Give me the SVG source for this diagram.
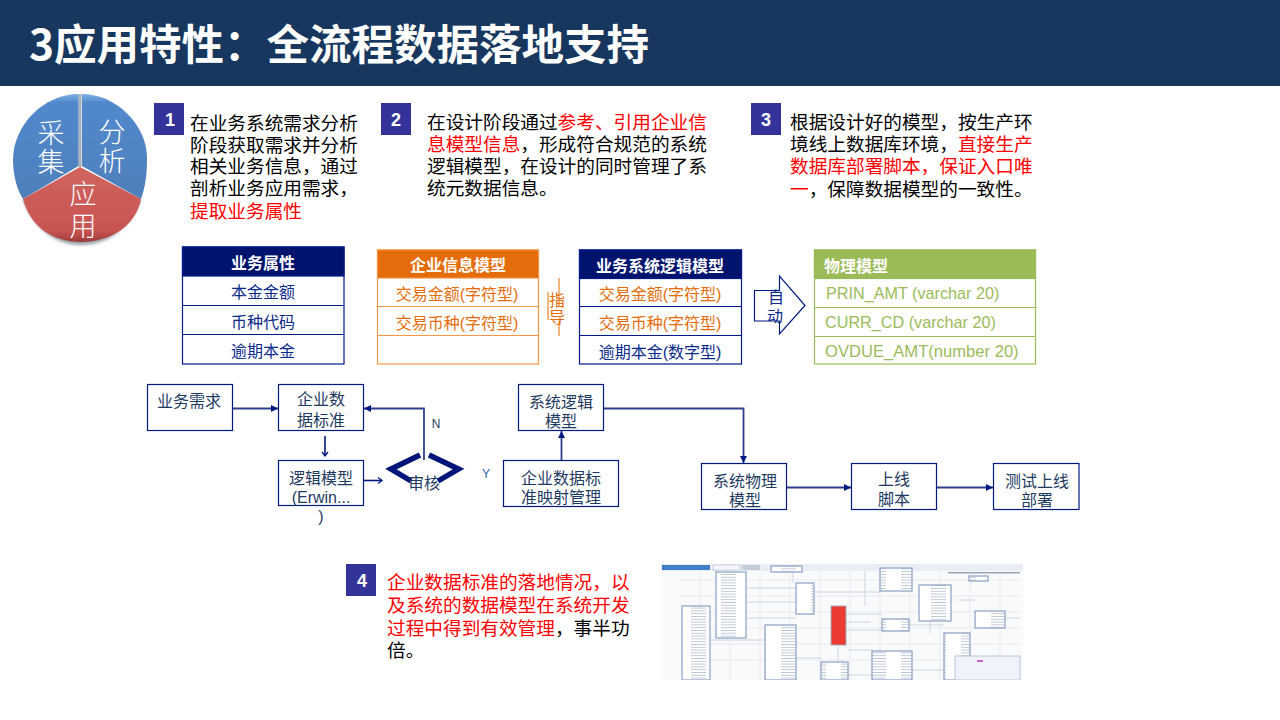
<svg xmlns="http://www.w3.org/2000/svg" width="1280" height="720" viewBox="0 0 1280 720">
<style>
text{font-family:"Liberation Sans","Noto Sans CJK SC",sans-serif}
.cjk{font-family:"Noto Sans CJK SC","Liberation Sans",sans-serif}
.body{font-size:18.670px;fill:#000}
.red{fill:#f00}
.num{font-size:18px;font-weight:700;fill:#fff;text-anchor:middle}
.badge{fill:#333399}
.th{font-size:16px;font-weight:700;fill:#fff;text-anchor:middle}
.td{font-size:16px;text-anchor:middle}
.navy{fill:#0a2a8c}
.org{fill:#e46c0a}
.grn{fill:#9bbb59}
.box{fill:#fff;stroke:#001a80;stroke-width:1.2}
.fl{font-size:16px;fill:#1f3a5f;text-anchor:middle}
.conn{fill:none;stroke:#2f3d90;stroke-width:1.8;marker-end:url(#a)}
.open{fill:none;stroke:#001a80;stroke-width:1.6;marker-end:url(#o)}
.pie{font-size:27px;fill:#fff;text-anchor:middle;font-family:"Noto Sans CJK SC",sans-serif;font-weight:300}
.gl{stroke:#dfe3ea;stroke-width:.6;fill:none}
.t{fill:url(#rows);stroke:#93a8c8;stroke-width:1.300}
</style>
<defs>
<marker id="a" markerWidth="8" markerHeight="8" refX="7" refY="3.500" orient="auto" markerUnits="userSpaceOnUse"><path d="M0 0L7 3.500L0 7z" fill="#001a80"/></marker>
<marker id="o" markerWidth="8" markerHeight="8" refX="6" refY="4" orient="auto" markerUnits="userSpaceOnUse"><path d="M2 1L6 4L2 7" fill="none" stroke="#001a80" stroke-width="1.300"/></marker>
<linearGradient id="b" x1="0" y1="0" x2="0" y2="1"><stop offset="0" stop-color="#7fb0e6"/><stop offset=".08" stop-color="#5189cc"/><stop offset="1" stop-color="#4f7fbc"/></linearGradient>
<linearGradient id="r" x1="0" y1="0" x2="0" y2="1"><stop offset="0" stop-color="#d26460"/><stop offset=".85" stop-color="#c85450"/><stop offset="1" stop-color="#9c3d3a"/></linearGradient>
<pattern id="rows" width="30" height="2.800" patternUnits="userSpaceOnUse"><rect width="30" height="2.800" fill="#fff"/><rect x="1" width="15" height=".7" fill="#a9b3c4"/></pattern>
<filter id="soft" x="0" y="0" width="1" height="1"><feGaussianBlur stdDeviation=".6"/></filter>
<filter id="sh" x="-10%" y="-10%" width="120%" height="120%"><feGaussianBlur stdDeviation="1.500"/></filter>
</defs>
<rect width="1280" height="720" fill="#fff"/>
<g id="title"><rect width="1280" height="86" fill="#17375e"/><text x="29" y="60" class="cjk" font-size="42.500" font-weight="700" fill="#fff">3应用特性：全流程数据落地支持</text></g>

<g id="pie">
<path d="M23 200C33 228 55 245 81 245C108 245 130 228 141 200L81 170Z" fill="#9aa0a8" filter="url(#sh)"/>
<rect x="78.500" y="94" width="3" height="73" fill="#aab0b8"/>
<path d="M78.500 94C44 94 13 125 13 160C13 175 17 190 23 199L78.500 166Z" fill="url(#b)"/>
<path d="M82 94C116 94 147 125 147 158C147 175 145 188 141 199L82 166Z" fill="url(#b)"/>
<path d="M80 167L141 199C136 226 110 242 81 242C52 242 30 226 23 199Z" fill="url(#r)"/>
<text class="pie"><tspan x="51" y="143">采</tspan><tspan x="51" dy="29">集</tspan></text>
<text class="pie"><tspan x="112" y="142">分</tspan><tspan x="112" dy="29">析</tspan></text>
<text class="pie"><tspan x="83" y="204">应</tspan><tspan x="83" dy="32">用</tspan></text>
</g>

<g id="step1"><rect class="badge" x="154" y="103" width="30" height="32"/><text class="num" x="170" y="126">1</text>
<text class="body" x="190" y="130">在业务系统需求分析</text><text class="body" x="190" y="152">阶段获取需求并分析</text><text class="body" x="190" y="173">相关业务信息，通过</text><text class="body" x="190" y="195">剖析业务应用需求，</text><text class="body red" x="190" y="218">提取业务属性</text></g>
<g id="step2"><rect class="badge" x="381" y="103" width="30" height="32"/><text class="num" x="396" y="126">2</text>
<text class="body" x="427" y="129">在设计阶段通过<tspan class="red">参考、引用企业信</tspan></text><text class="body" x="427" y="151"><tspan class="red">息模型信息</tspan>，形成符合规范的系统</text><text class="body" x="427" y="173">逻辑模型，在设计的同时管理了系</text><text class="body" x="427" y="195">统元数据信息。</text></g>
<g id="step3"><rect class="badge" x="751" y="103" width="30" height="32"/><text class="num" x="766" y="126">3</text>
<text class="body" x="790" y="129">根据设计好的模型，按生产环</text><text class="body" x="790" y="151">境线上数据库环境，<tspan class="red">直接生产</tspan></text><text class="body red" x="790" y="173">数据库部署脚本，保证入口唯</text><text class="body" x="790" y="196"><tspan class="red">一</tspan>，保障数据模型的一致性。</text></g>

<g id="table1" fill="#fff" stroke="#001a8c" stroke-width="1.2">
<rect x="182.500" y="247" width="161.500" height="117"/><rect x="182.500" y="247" width="161.500" height="29" fill="#00146e"/><path d="M182.500 305.500H344M182.500 334.500H344"/>
<g stroke="none"><text class="th" x="263" y="269">业务属性</text><text class="td navy" x="263" y="298">本金金额</text><text class="td navy" x="263" y="328">币种代码</text><text class="td navy" x="263" y="357">逾期本金</text></g></g>
<g id="table2" fill="#fff" stroke="#f79646" stroke-width="1.2">
<rect x="377.500" y="250" width="161" height="114"/><rect x="377.500" y="250" width="161" height="28" fill="#e46c0a"/><path d="M377.500 306.500H538.500M377.500 335.500H538.500"/>
<g stroke="none"><text class="th" x="458" y="271">企业信息模型</text><text class="td org" x="457" y="300">交易金额(字符型)</text><text class="td org" x="457" y="329">交易币种(字符型)</text></g></g>
<g id="table3" fill="#fff" stroke="#001a8c" stroke-width="1.2">
<rect x="579.500" y="250" width="162" height="114"/><rect x="579.500" y="250" width="162" height="28.500" fill="#00146e"/><path d="M579.500 306.500H741.500M579.500 335.500H741.500"/>
<g stroke="none"><text class="th" x="660" y="272">业务系统逻辑模型</text><text class="td org" x="660" y="300">交易金额(字符型)</text><text class="td org" x="660" y="329">交易币种(字符型)</text><text class="td navy" x="660" y="358">逾期本金(数字型)</text></g></g>
<g id="table4" fill="#fff" stroke="#9bbb59" stroke-width="1.2">
<rect x="814.500" y="250" width="221" height="114"/><rect x="814.500" y="250" width="221" height="28.500" fill="#9bbb59"/><path d="M814.500 307.500H1035.500M814.500 336.500H1035.500"/>
<g stroke="none"><text class="th" x="856" y="272">物理模型</text><text class="grn" x="826" y="299" font-size="16.200">PRIN_AMT (varchar 20)</text><text class="grn" x="825" y="328" font-size="16.200">CURR_CD (varchar 20)</text><text class="grn" x="825" y="357" font-size="16.600">OVDUE_AMT(number 20)</text></g></g>

<g id="guide"><path d="M559 278V306M559 321V336M548 292V320" stroke="#e46c0a" fill="none"/><text class="td org" x="557" y="306">指</text><text class="td org" x="557" y="323">导</text></g>
<g id="auto"><path d="M754.500 290.500H779.500V276L805 305.500L779.500 334V321H754.500Z" fill="#fff" stroke="#001a80" stroke-width="1.200"/><text class="td navy" x="776" y="303">自</text><text class="td navy" x="775" y="322">动</text></g>

<g id="connectors">
<path class="conn" d="M233 408.500H278"/>
<path class="open" d="M325 436V456"/>
<path class="open" d="M364 480.500H382"/>
<path class="conn" d="M424 460V408.500H364"/>
<path class="conn" d="M561.500 460V431"/>
<path class="conn" d="M604 408.500H743.500V463"/>
<path class="conn" d="M787 487.500H851"/>
<path class="conn" d="M937 487.500H993"/>
</g>
<g id="n1"><rect class="box" x="147.500" y="384.500" width="85" height="46"/><text class="fl" x="189" y="407">业务需求</text></g>
<g id="n2"><rect class="box" x="278.500" y="384.500" width="85" height="46"/><text class="fl" x="321" y="405">企业数</text><text class="fl" x="321" y="426">据标准</text></g>
<g id="n3"><rect class="box" x="278.500" y="460.500" width="85" height="45"/><text class="fl" x="321" y="484">逻辑模型</text><text class="fl" x="321" y="503">(Erwin...</text><text class="fl" x="321" y="522">)</text></g>
<g id="n4"><path d="M420 455L391 469L411 481M429 455L458.500 469L438 481" fill="none" stroke="#00147a" stroke-width="5.500"/><text class="fl" x="424" y="489">审核</text></g>
<text x="436" y="428" text-anchor="middle" fill="#1f3a5f" font-size="12">N</text><text x="486" y="478" text-anchor="middle" fill="#2f5fa8" font-size="12">Y</text>
<g id="n5"><rect class="box" x="518.500" y="384.500" width="85" height="46"/><text class="fl" x="561" y="408">系统逻辑</text><text class="fl" x="561" y="427">模型</text></g>
<g id="n6"><rect class="box" x="503.500" y="460.500" width="115" height="46"/><text class="fl" x="561" y="484">企业数据标</text><text class="fl" x="561" y="503">准映射管理</text></g>
<g id="n7"><rect class="box" x="701.500" y="463.500" width="85" height="46"/><text class="fl" x="745" y="487">系统物理</text><text class="fl" x="745" y="506">模型</text></g>
<g id="n8"><rect class="box" x="851.500" y="463.500" width="85" height="46"/><text class="fl" x="894" y="485">上线</text><text class="fl" x="894" y="505">脚本</text></g>
<g id="n9"><rect class="box" x="993.500" y="463.500" width="85.500" height="46"/><text class="fl" x="1037" y="487">测试上线</text><text class="fl" x="1037" y="506">部署</text></g>

<g id="step4"><rect class="badge" x="346" y="564" width="30" height="32"/><text class="num" x="362" y="587">4</text>
<text class="body red" x="387" y="589">企业数据标准的落地情况，以</text><text class="body red" x="387" y="612">及系统的数据模型在系统开发</text><text class="body" x="387" y="635"><tspan class="red">过程中得到有效管理</tspan>，事半功</text><text class="body" x="387" y="657">倍。</text></g>

<g id="screenshot" filter="url(#soft)">
<rect x="661" y="564" width="362" height="116" fill="#f9fafc"/>
<rect x="661" y="564" width="362" height="7" fill="#e9eef5"/>
<rect x="662" y="565" width="48" height="5" fill="#3f7fc8"/><rect x="713" y="565" width="27" height="5" fill="#f4f6fa" stroke="#b8c4d6" stroke-width=".7"/><rect x="742" y="565" width="18" height="5" fill="#c5cdda"/>
<path class="gl" d="M680 580H1020M680 596H1020M680 612H1020M680 628H1020M680 644H1020M680 660H1020M700 571V680M730 571V680M760 571V680M790 571V680M820 571V680M850 571V680M880 571V680M910 571V680M940 571V680M970 571V680M1000 571V680"/>
<path d="M746 588H796M746 602H796M746 618H796M710 640H765M793 571V583M815 592H880M846 614H882M846 630H882M846 622H870M865 571V606M848 650H872M838 645V662M909 625H944M930 621V633M1005 618H1020M958 600H975M795 658H821M848 675H872M912 670H944" fill="none" stroke="#c2cbd9" stroke-width=".8"/>
<rect class="t" x="716" y="572" width="30" height="66"/>
<rect class="t" x="682" y="606" width="28" height="74"/>
<rect class="t" x="796" y="583" width="18" height="31"/>
<rect class="t" x="771" y="566" width="31" height="6"/>
<rect class="t" x="880" y="568" width="32" height="23"/>
<rect class="t" x="919" y="585" width="32" height="36"/>
<rect class="t" x="969" y="576" width="19" height="5"/>
<rect class="t" x="975" y="611" width="30" height="17"/>
<rect class="t" x="882" y="619" width="27" height="12"/>
<rect class="t" x="944" y="633" width="26" height="47"/>
<rect class="t" x="765" y="625" width="31" height="55"/>
<rect class="t" x="821" y="662" width="27" height="18"/>
<rect class="t" x="872" y="651" width="40" height="29"/>
<rect x="831" y="606" width="15" height="39" fill="#ec3a30" stroke="#a8aeb8"/>
<rect x="955" y="656" width="65" height="24" fill="#f1f3fa" stroke="#b8c6da"/>
<rect x="977" y="660" width="6" height="2" fill="#d060d0"/>
<rect x="948" y="572" width="72" height="1.500" fill="#9aa6b8"/>
</g>
</svg>
